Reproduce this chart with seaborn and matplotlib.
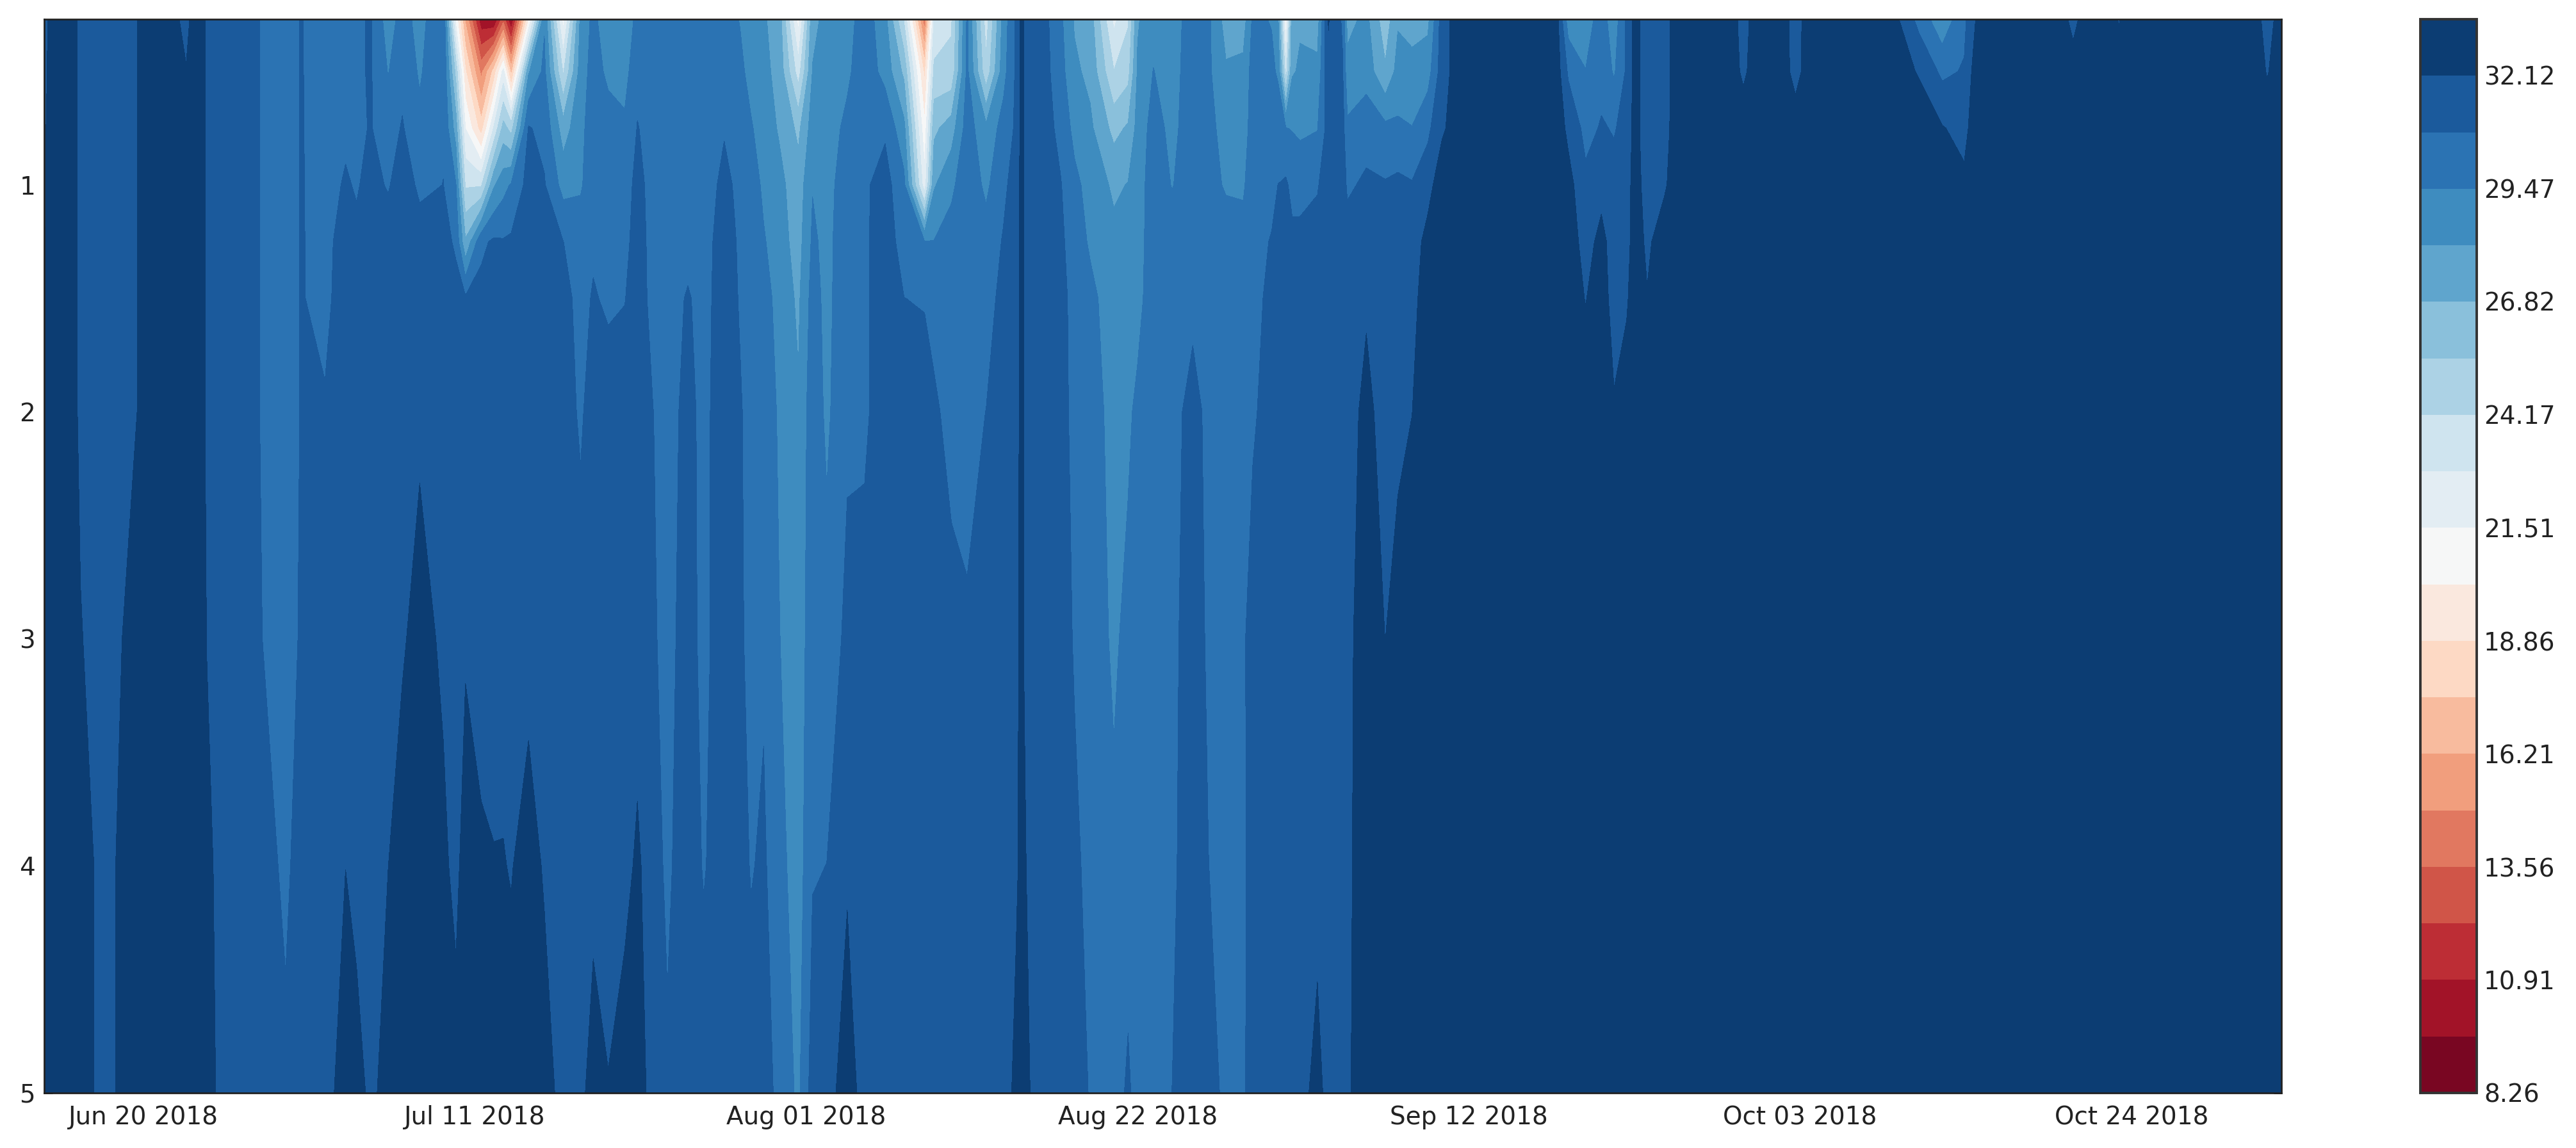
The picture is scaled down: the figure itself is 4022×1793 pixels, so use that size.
import numpy as np
import pandas as pd
import matplotlib
matplotlib.use('Agg')
import matplotlib.pyplot as plt
import matplotlib.dates as mdates
import seaborn as sns

sns.set_style('ticks', {'xtick.direction': 'in', 'ytick.direction': 'in'})
plt.rcParams['font.family'] = ['DejaVu Sans']

depths = [0.27, 0.5, 0.75, 1.0, 1.25, 1.5, 2.0, 3.0, 4.0, 5.0]

# days relative to 20 Jun 2018
days = [
    -6.3, -5.7, -4, -2, 0, 1.5, 2.7, 3.3, 4, 6, 8, 9, 10, 11.5, 12.8, 13.5, 14.4, 15.5, 16.4, 17.5, 19, 19.8, 20.4,
    21.4, 22.2, 22.8, 23.3, 24.4, 25.4, 26.6, 27.7, 28.5, 29.45, 30.5, 31.3, 32.3, 33.2, 34.5, 35.5,
    36.8, 37.8, 38.5, 39.3, 40.3, 41.5, 42.4, 43.3, 44.6, 45.7, 47, 48.2, 49.5, 50.1, 51.2, 52.2,
    53.4, 54.5, 55.3, 55.6, 56.2, 57.3, 58.1, 59, 60, 61.5, 62.4, 63, 64, 65.2, 66.5, 67.5, 68.6,
    69.7, 70.3, 71.5, 71.9, 72.4, 72.8, 73.3, 74.4, 75.1, 76, 76.3, 77.5, 78.7, 79.5, 80.4, 81.4, 82.3, 83.5,
    89.5, 90.3, 91.4, 92.4, 93.2, 94, 94.5, 95.3, 96.4, 97.2, 100.5, 101.4, 102.3, 103.8, 104.7,
    105.6, 110.7, 112.5, 114, 115.4, 116.2, 121.5, 122.3, 123.1, 124.5, 125.2, 126, 133.8, 134.6,
    135.5,
]

# one row per day, one value per depth
temps = [
    [31.6, 31.7, 31.9, 31.9, 32.0, 32.3, 32.6, 32.9, 33.0, 33.0],
    [33.0, 33.0, 33.0, 33.0, 33.0, 33.0, 33.0, 33.0, 33.0, 33.0],
    [32.0, 32.0, 32.0, 32.0, 32.0, 32.0, 32.0, 32.15, 32.2, 32.2],
    [31.4, 31.4, 31.4, 31.4, 31.4, 31.4, 31.4, 31.7, 32.0, 32.0],
    [32.3, 32.3, 32.3, 32.3, 32.3, 32.3, 32.3, 33.0, 33.0, 33.0],
    [33.0, 33.0, 33.0, 33.0, 33.0, 33.0, 33.0, 33.0, 33.0, 33.0],
    [31.6, 32.2, 33.0, 33.0, 33.0, 33.0, 33.0, 33.0, 33.0, 33.0],
    [33.0, 33.0, 33.0, 33.0, 33.0, 33.0, 33.0, 33.0, 33.0, 33.0],
    [31.95, 31.95, 31.95, 31.95, 31.95, 31.95, 31.95, 32.1, 32.3, 32.4],
    [31.4, 31.4, 31.4, 31.4, 31.4, 31.4, 31.4, 31.4, 31.4, 31.4],
    [30.5, 30.5, 30.5, 30.5, 30.5, 30.5, 30.5, 30.6, 31.0, 31.4],
    [30.4, 30.4, 30.4, 30.4, 30.3, 30.3, 30.3, 30.4, 30.6, 31.0],
    [30.85, 30.85, 30.85, 30.85, 30.85, 30.85, 30.85, 30.9, 31.2, 31.4],
    [30.1, 30.2, 30.3, 30.4, 30.45, 30.5, 30.9, 31.3, 31.4, 31.4],
    [30.3, 30.4, 30.6, 30.9, 31.3, 31.4, 31.4, 31.4, 32.1, 33.0],
    [30.6, 30.6, 30.6, 30.7, 31.0, 31.4, 31.4, 31.4, 31.4, 33.0],
    [30.9, 30.9, 30.85, 31.1, 31.4, 31.4, 31.4, 31.4, 31.6, 31.6],
    [28.8, 29.4, 30.2, 30.7, 31.3, 31.4, 31.4, 31.5, 32.1, 33.0],
    [30.0, 30.4, 30.9, 31.3, 31.4, 31.4, 31.4, 31.9, 33.0, 33.0],
    [29.0, 29.3, 29.8, 30.6, 31.2, 31.4, 31.8, 32.8, 33.0, 33.0],
    [30.7, 30.7, 30.7, 30.8, 31.4, 31.4, 31.4, 31.8, 32.5, 33.0],
    [21.0, 25.0, 27.5, 29.5, 30.5, 31.4, 31.4, 31.4, 31.6, 32.9],
    [16.0, 19.0, 21.5, 24.0, 27.0, 31.0, 31.4, 31.9, 33.0, 33.0],
    [10.0, 14.5, 18.2, 24.0, 30.5, 31.2, 31.4, 31.4, 32.4, 33.0],
    [9.5, 18.0, 23.0, 28.0, 31.0, 31.4, 31.4, 31.4, 32.2, 33.0],
    [13.0, 22.0, 26.0, 29.0, 30.9, 31.4, 31.4, 31.5, 32.2, 33.0],
    [9.5, 17.0, 25.0, 29.6, 31.0, 31.4, 31.4, 31.6, 32.0, 33.0],
    [20.0, 28.0, 30.9, 31.3, 31.4, 31.4, 31.4, 31.4, 33.0, 33.0],
    [29.3, 29.8, 30.4, 30.9, 31.3, 31.4, 31.4, 31.4, 31.9, 33.0],
    [21.0, 24.0, 27.5, 29.0, 30.8, 31.2, 31.4, 31.4, 31.4, 31.4],
    [28.5, 28.8, 29.1, 29.3, 30.2, 30.4, 30.6, 31.4, 31.4, 31.6],
    [29.8, 30.0, 30.2, 30.3, 30.6, 30.9, 31.4, 31.4, 31.5, 33.0],
    [28.6, 29.2, 30.0, 30.3, 30.4, 30.6, 31.4, 31.4, 31.4, 32.2],
    [28.7, 29.0, 29.7, 30.2, 30.4, 30.75, 31.4, 31.4, 31.6, 33.0],
    [29.8, 30.4, 30.85, 31.2, 31.4, 31.4, 31.4, 31.4, 32.4, 33.0],
    [30.3, 30.3, 30.3, 30.3, 30.3, 30.4, 30.8, 30.9, 31.2, 31.4],
    [30.0, 30.0, 30.1, 30.2, 30.3, 30.3, 30.4, 30.5, 30.6, 30.95],
    [30.0, 30.0, 30.1, 30.2, 30.4, 30.9, 31.1, 31.2, 31.4, 31.4],
    [30.0, 30.0, 30.1, 30.2, 30.3, 30.4, 30.5, 30.5, 30.7, 31.4],
    [30.1, 30.1, 30.7, 31.1, 31.4, 31.4, 31.4, 31.4, 31.4, 31.5],
    [29.4, 29.8, 30.3, 30.5, 30.6, 30.7, 30.9, 31.0, 31.3, 31.4],
    [28.8, 29.0, 29.6, 30.2, 30.4, 30.4, 30.4, 30.4, 30.7, 31.4],
    [28.3, 28.5, 28.8, 29.2, 29.6, 30.0, 30.2, 30.6, 31.0, 31.4],
    [27.5, 27.7, 28.0, 28.5, 28.7, 29.0, 29.3, 29.5, 29.9, 30.4],
    [21.0, 23.5, 26.5, 27.4, 27.6, 27.9, 28.3, 28.6, 28.8, 29.2],
    [27.8, 28.2, 28.8, 29.4, 29.7, 30.0, 30.3, 30.4, 30.7, 31.4],
    [28.5, 28.6, 28.8, 29.0, 29.1, 29.1, 29.2, 30.0, 30.8, 31.4],
    [28.9, 29.2, 29.8, 30.2, 30.3, 30.4, 30.6, 31.1, 31.9, 33.0],
    [30.2, 30.3, 30.5, 30.6, 30.6, 30.6, 30.6, 31.2, 31.4, 31.4],
    [28.6, 29.0, 30.6, 31.3, 31.4, 31.4, 31.4, 31.4, 31.4, 31.4],
    [24.0, 26.5, 28.5, 29.8, 30.3, 30.8, 31.4, 31.4, 31.4, 31.4],
    [14.0, 18.5, 20.5, 22.0, 29.5, 30.7, 31.4, 31.4, 31.4, 31.4],
    [23.0, 24.5, 26.5, 28.0, 29.5, 30.4, 31.0, 31.4, 31.4, 31.4],
    [24.0, 24.5, 27.5, 29.2, 30.0, 30.2, 30.4, 31.2, 31.4, 31.4],
    [29.7, 29.8, 30.1, 30.3, 30.4, 30.4, 30.5, 30.9, 31.4, 31.4],
    [23.5, 24.5, 28.5, 29.2, 30.0, 30.4, 30.8, 31.4, 31.4, 31.4],
    [28.7, 29.0, 30.0, 30.5, 30.9, 31.1, 31.4, 31.4, 31.4, 31.4],
    [31.0, 31.0, 31.0, 31.4, 31.4, 31.4, 31.6, 31.8, 31.9, 32.5],
    [32.4, 32.4, 32.4, 32.4, 32.4, 32.4, 32.4, 32.4, 32.4, 33.0],
    [31.4, 31.4, 31.4, 31.4, 31.4, 31.4, 31.4, 31.4, 31.9, 32.1],
    [30.9, 31.0, 31.2, 31.4, 31.4, 31.4, 31.4, 31.4, 31.4, 31.4],
    [29.8, 30.0, 30.4, 30.9, 31.1, 31.2, 31.2, 31.3, 31.4, 31.4],
    [28.0, 28.4, 29.1, 29.8, 30.1, 30.4, 30.5, 30.7, 31.0, 31.4],
    [27.5, 27.8, 28.4, 29.0, 29.3, 29.8, 30.1, 30.4, 30.5, 30.7],
    [22.5, 24.2, 26.4, 27.9, 28.5, 28.8, 29.0, 29.2, 29.8, 30.2],
    [24.0, 25.0, 27.0, 28.2, 28.8, 29.0, 29.2, 29.9, 30.2, 31.0],
    [28.0, 28.3, 28.6, 28.8, 28.9, 29.0, 29.8, 30.1, 30.3, 30.3],
    [29.0, 29.5, 30.0, 30.2, 30.2, 30.3, 30.3, 30.3, 30.4, 30.4],
    [28.8, 28.9, 29.1, 29.4, 30.2, 30.3, 30.4, 30.5, 30.6, 30.8],
    [30.2, 30.3, 30.3, 30.3, 30.4, 30.5, 31.2, 31.4, 31.4, 31.4],
    [29.7, 29.7, 29.9, 30.0, 30.3, 30.4, 30.5, 30.6, 30.8, 31.3],
    [27.6, 28.3, 28.9, 29.3, 30.2, 30.3, 30.4, 30.4, 30.4, 30.5],
    [27.5, 28.5, 28.9, 29.3, 29.9, 30.3, 30.5, 30.6, 30.5, 30.6],
    [29.7, 30.0, 30.0, 30.2, 30.2, 30.3, 30.6, 31.4, 31.4, 31.4],
    [29.4, 29.7, 30.0, 30.3, 30.9, 31.2, 31.4, 31.4, 31.4, 31.4],
    [28.5, 29.3, 30.2, 30.8, 31.2, 31.4, 31.4, 31.4, 31.4, 31.4],
    [20.5, 23.5, 29.5, 31.0, 31.4, 31.4, 31.4, 31.4, 31.4, 31.4],
    [27.8, 28.0, 29.4, 30.4, 31.1, 31.4, 31.4, 31.4, 31.4, 31.4],
    [28.0, 28.3, 29.2, 30.4, 31.1, 31.4, 31.4, 31.4, 31.4, 31.4],
    [27.5, 28.5, 29.4, 30.7, 31.2, 31.4, 31.4, 31.4, 31.4, 32.8],
    [32.2, 31.8, 31.4, 31.4, 31.4, 31.4, 31.4, 31.4, 31.4, 31.4],
    [30.6, 30.9, 31.3, 31.4, 31.4, 31.4, 31.4, 31.4, 31.4, 31.4],
    [27.7, 28.6, 29.7, 30.6, 31.3, 31.4, 31.4, 31.7, 31.8, 31.9],
    [28.5, 28.9, 30.3, 31.0, 31.3, 31.9, 32.6, 33.0, 33.0, 33.0],
    [26.0, 27.0, 29.8, 30.9, 31.4, 31.4, 31.4, 32.1, 33.0, 33.0],
    [28.0, 28.6, 29.7, 31.1, 31.4, 31.4, 31.6, 33.0, 33.0, 33.0],
    [27.6, 28.6, 29.5, 30.9, 31.4, 31.6, 32.1, 33.0, 33.0, 33.0],
    [27.8, 28.9, 30.5, 31.6, 32.6, 33.0, 33.0, 33.0, 33.0, 33.0],
    [31.5, 31.5, 31.9, 33.0, 33.0, 33.0, 33.0, 33.0, 33.0, 33.0],
    [33.0, 33.0, 33.0, 33.0, 33.0, 33.0, 33.0, 33.0, 33.0, 33.0],
    [33.0, 33.0, 33.0, 33.0, 33.0, 33.0, 33.0, 33.0, 33.0, 33.0],
    [28.8, 30.6, 31.8, 32.6, 33.0, 33.0, 33.0, 33.0, 33.0, 33.0],
    [28.8, 29.5, 30.4, 31.1, 31.5, 32.05, 33.0, 33.0, 33.0, 33.0],
    [30.1, 30.4, 30.9, 31.6, 32.6, 33.0, 33.0, 33.0, 33.0, 33.0],
    [28.7, 29.3, 30.7, 31.2, 31.4, 31.4, 32.3, 33.0, 33.0, 33.0],
    [31.0, 31.0, 31.2, 31.4, 31.4, 31.9, 33.0, 33.0, 33.0, 33.0],
    [32.6, 32.6, 32.6, 32.8, 33.0, 33.0, 33.0, 33.0, 33.0, 33.0],
    [31.4, 31.4, 31.4, 31.5, 31.8, 32.2, 33.0, 33.0, 33.0, 33.0],
    [31.4, 31.4, 31.5, 31.9, 33.0, 33.0, 33.0, 33.0, 33.0, 33.0],
    [33.0, 33.0, 33.0, 33.0, 33.0, 33.0, 33.0, 33.0, 33.0, 33.0],
    [33.0, 33.0, 33.0, 33.0, 33.0, 33.0, 33.0, 33.0, 33.0, 33.0],
    [31.5, 31.8, 33.0, 33.0, 33.0, 33.0, 33.0, 33.0, 33.0, 33.0],
    [33.0, 33.0, 33.0, 33.0, 33.0, 33.0, 33.0, 33.0, 33.0, 33.0],
    [33.0, 33.0, 33.0, 33.0, 33.0, 33.0, 33.0, 33.0, 33.0, 33.0],
    [31.4, 31.5, 33.0, 33.0, 33.0, 33.0, 33.0, 33.0, 33.0, 33.0],
    [33.0, 33.0, 33.0, 33.0, 33.0, 33.0, 33.0, 33.0, 33.0, 33.0],
    [32.9, 33.0, 33.0, 33.0, 33.0, 33.0, 33.0, 33.0, 33.0, 33.0],
    [30.4, 32.0, 33.0, 33.0, 33.0, 33.0, 33.0, 33.0, 33.0, 33.0],
    [28.5, 30.5, 32.2, 33.0, 33.0, 33.0, 33.0, 33.0, 33.0, 33.0],
    [30.5, 30.9, 31.7, 32.4, 33.0, 33.0, 33.0, 33.0, 33.0, 33.0],
    [32.3, 33.0, 33.0, 33.0, 33.0, 33.0, 33.0, 33.0, 33.0, 33.0],
    [33.0, 33.0, 33.0, 33.0, 33.0, 33.0, 33.0, 33.0, 33.0, 33.0],
    [31.5, 33.0, 33.0, 33.0, 33.0, 33.0, 33.0, 33.0, 33.0, 33.0],
    [33.0, 33.0, 33.0, 33.0, 33.0, 33.0, 33.0, 33.0, 33.0, 33.0],
    [33.0, 33.0, 33.0, 33.0, 33.0, 33.0, 33.0, 33.0, 33.0, 33.0],
    [32.0, 33.0, 33.0, 33.0, 33.0, 33.0, 33.0, 33.0, 33.0, 33.0],
    [33.0, 33.0, 33.0, 33.0, 33.0, 33.0, 33.0, 33.0, 33.0, 33.0],
    [33.0, 33.0, 33.0, 33.0, 33.0, 33.0, 33.0, 33.0, 33.0, 33.0],
    [31.3, 32.0, 33.0, 33.0, 33.0, 33.0, 33.0, 33.0, 33.0, 33.0],
    [33.0, 33.0, 33.0, 33.0, 33.0, 33.0, 33.0, 33.0, 33.0, 33.0],
]

x_ticks = ['2018-06-20', '2018-07-11', '2018-08-01', '2018-08-22', '2018-09-12', '2018-10-03', '2018-10-24']
y_ticks = [1, 2, 3, 4, 5]
cbar_ticks = [8.26, 10.91, 13.56, 16.21, 18.86, 21.51, 24.17, 26.82, 29.47, 32.12]

print(len(days), len(temps), set(len(r) for r in temps))

levels = np.linspace(8.26, 33.44, 20)
cmap = sns.color_palette('RdBu', as_cmap=True)

dates = pd.Timestamp('2018-06-20') + pd.to_timedelta(days, unit='D')
X, Y = np.meshgrid(mdates.date2num(dates), depths)
Z = np.array(temps).T

fig = plt.figure(figsize=(20.11, 8.965), dpi=200)
W, H = 4022, 1793
ax = fig.add_axes([69 / W, 1 - 1707 / H, (3562 - 69) / W, (1707 - 30) / H])
cax = fig.add_axes([3779 / W, 1 - 1707 / H, (3867 - 3779) / W, (1707 - 30) / H])

cf = ax.contourf(X, Y, Z, levels=levels, cmap=cmap, vmin=levels[0], vmax=levels[-1])
ax.set_ylim(5, 0.27)
ax.set_yticks(y_ticks)
ax.set_xticks(mdates.date2num(pd.to_datetime(x_ticks)))
ax.xaxis.set_major_formatter(mdates.DateFormatter('%b %d %Y'))
ax.tick_params(axis='both', which='major', direction='in', top=True, right=True,
               length=4.5, width=1, labelsize=14, pad=7, color='black', labelcolor='#222222')
ax.tick_params(axis='y', pad=5)
for s in ax.spines.values():
    s.set_visible(True)
    s.set_linewidth(1)
    s.set_color('#222222')

cb = fig.colorbar(cf, cax=cax, ticks=cbar_ticks)
cb.ax.set_yticklabels(['%.2f' % t for t in cbar_ticks])
cb.ax.tick_params(direction='in', length=4.5, width=1, labelsize=14, pad=4, labelcolor='#222222')
cb.outline.set_linewidth(1.4)
cb.outline.set_edgecolor('#333333')

fig.savefig('out.png', dpi=200)
